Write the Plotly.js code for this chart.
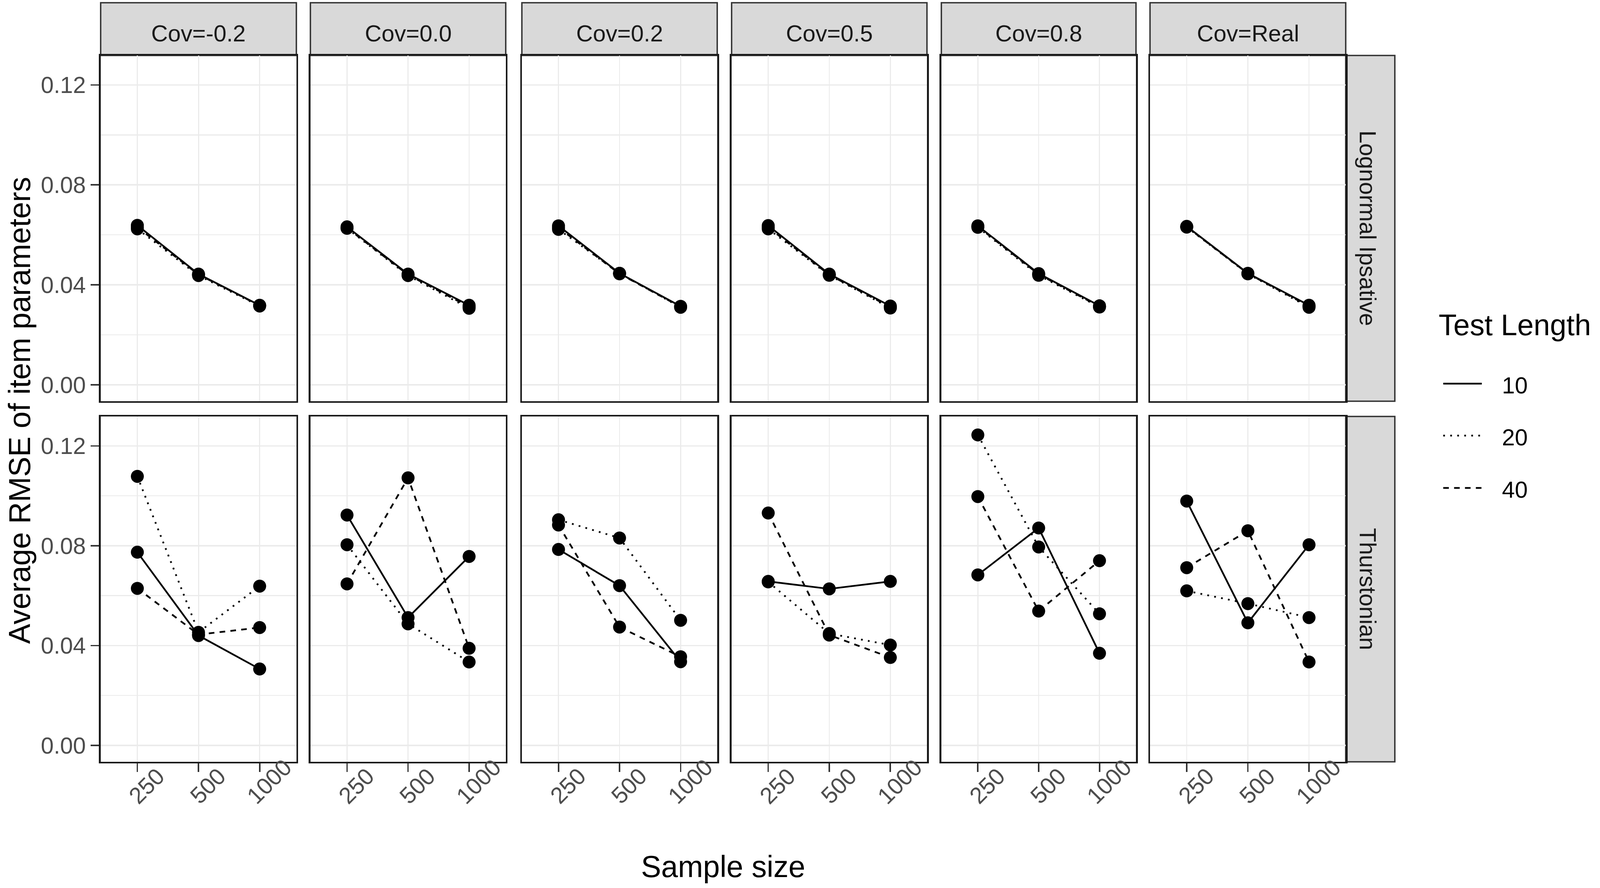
<!DOCTYPE html>
<html>
<head>
<meta charset="utf-8">
<script src="https://cdn.plot.ly/plotly-3.0.1.min.js"></script>
<style>
  html, body { margin: 0; padding: 0; background: #fff; overflow: hidden; }
  #plot { width: 100vw; height: 100vh; }
</style>
</head>
<body>
<div id="plot"></div>
<script>
const sampleSizes = ["250", "500", "1000"];
const covLabels = ["Cov=-0.2", "Cov=0.0", "Cov=0.2", "Cov=0.5", "Cov=0.8", "Cov=Real"];
const modelLabels = ["Lognormal Ipsative", "Thurstonian"];
const testLengths = ["10", "20", "40"];
const yTicks = [0, 0.04, 0.08, 0.12];

// one row per Cov panel, values at sample size 250 / 500 / 1000
const lognormal10 = [
  [0.0638, 0.0443, 0.0318],
  [0.0632, 0.0443, 0.0318],
  [0.0636, 0.0446, 0.0314],
  [0.0637, 0.0443, 0.0315],
  [0.0636, 0.0445, 0.0316],
  [0.0634, 0.0446, 0.0318]
];
const lognormal20 = [
  [0.0624, 0.0437, 0.0315],
  [0.0626, 0.0437, 0.0306],
  [0.0622, 0.0446, 0.0310],
  [0.0624, 0.0438, 0.0307],
  [0.0630, 0.0438, 0.0311],
  [0.0631, 0.0444, 0.0310]
];
const lognormal40 = [
  [0.0631, 0.0441, 0.0317],
  [0.0628, 0.0440, 0.0312],
  [0.0629, 0.0444, 0.0312],
  [0.0630, 0.0440, 0.0311],
  [0.0633, 0.0442, 0.0313],
  [0.0632, 0.0445, 0.0314]
];
const thurstonian10 = [
  [0.0774, 0.0440, 0.0306],
  [0.0923, 0.0512, 0.0757],
  [0.0785, 0.0640, 0.0335],
  [0.0657, 0.0627, 0.0657],
  [0.0683, 0.0871, 0.0369],
  [0.0979, 0.0491, 0.0804]
];
const thurstonian20 = [
  [0.1078, 0.0453, 0.0638],
  [0.0804, 0.0487, 0.0334],
  [0.0904, 0.0831, 0.0501],
  [0.0655, 0.0448, 0.0402],
  [0.1244, 0.0795, 0.0527],
  [0.0619, 0.0568, 0.0512]
];
const thurstonian40 = [
  [0.0629, 0.0444, 0.0472],
  [0.0647, 0.1072, 0.0389],
  [0.0883, 0.0474, 0.0355],
  [0.0931, 0.0442, 0.0352],
  [0.0997, 0.0538, 0.0740],
  [0.0712, 0.0860, 0.0334]
];

const rows = [
  [lognormal10, lognormal20, lognormal40],
  [thurstonian10, thurstonian20, thurstonian40]
];

// geometry measured on a 4562 x 2273 canvas, rescaled to the real window
const REF_W = 4562, REF_H = 2273;
const W = window.innerWidth || REF_W;
const H = window.innerHeight || REF_H;
const S = Math.min(W / REF_W, H / REF_H);

const panelLeft = [287, 885, 1488, 2086, 2684, 3279];
const panelRight = [845, 1442, 2045, 2643, 3239, 3837];
const rowTop = [142, 1066];
const rowBottom = [1027, 1950];
const stripTop = 7;
const stripRight = 3977;

const px = (x) => x / REF_W;
const py = (y) => 1 - y / REF_H;
const sz = (v) => v * S;

const FONT = "Liberation Sans, Arial, Helvetica, sans-serif";
const dashes = [
  "solid",
  sz(5) + "px," + sz(15) + "px",
  sz(16) + "px," + sz(15) + "px"
];

const traces = [];
const layout = {
  width: W,
  height: H,
  margin: { l: 0, r: 0, t: 0, b: 0 },
  paper_bgcolor: "#ffffff",
  plot_bgcolor: "#ffffff",
  showlegend: false,
  font: { family: FONT, color: "#000" },
  shapes: [],
  annotations: []
};

for (let r = 0; r < 2; r++) {
  for (let c = 0; c < 6; c++) {
    const idx = r * 6 + c + 1;
    const sfx = idx === 1 ? "" : String(idx);

    layout["xaxis" + sfx] = {
      type: "category",
      categoryorder: "array",
      categoryarray: sampleSizes,
      range: [-0.6, 2.6],
      domain: [px(panelLeft[c]), px(panelRight[c])],
      anchor: "y" + sfx,
      showgrid: true,
      gridcolor: "#EBEBEB",
      gridwidth: sz(3),
      zeroline: false,
      showline: true,
      linecolor: "#1A1A1A",
      linewidth: sz(5),
      mirror: true,
      ticks: r === 1 ? "outside" : "",
      ticklen: sz(24),
      tickwidth: sz(4),
      tickcolor: "#333333",
      showticklabels: false,
      fixedrange: true
    };

    layout["yaxis" + sfx] = {
      range: [-0.0066, 0.1318],
      domain: [py(rowBottom[r]), py(rowTop[r])],
      anchor: "x" + sfx,
      tickmode: "array",
      tickvals: yTicks,
      ticktext: yTicks.map(v => v.toFixed(2)),
      showgrid: true,
      gridcolor: "#EBEBEB",
      gridwidth: sz(4),
      minor: { dtick: 0.02, tick0: 0, showgrid: true, gridcolor: "#EBEBEB", gridwidth: sz(3), ticks: "" },
      zeroline: false,
      showline: true,
      linecolor: "#1A1A1A",
      linewidth: sz(5),
      mirror: true,
      ticks: c === 0 ? "outside" : "",
      ticklen: sz(24),
      tickwidth: sz(4),
      tickcolor: "#333333",
      showticklabels: c === 0,
      ticklabelstandoff: sz(10),
      tickfont: { family: FONT, size: sz(66), color: "#4D4D4D" },
      fixedrange: true
    };

    for (let s = 0; s < 3; s++) {
      traces.push({
        type: "scatter",
        mode: "lines+markers",
        x: sampleSizes,
        y: rows[r][s][c],
        xaxis: "x" + sfx,
        yaxis: "y" + sfx,
        line: { color: "#000", width: sz(5), dash: dashes[s] },
        marker: { color: "#000", size: sz(37) },
        hoverinfo: "skip",
        showlegend: false
      });
    }

    // rotated sample size labels, placed on the category axis by index
    if (r === 1) {
      sampleSizes.forEach((n, i) => {
        layout.annotations.push({
          xref: "x" + sfx, yref: "paper",
          x: i, y: py(2072),
          xanchor: "center", yanchor: "bottom",
          xshift: sz(27),
          textangle: -45,
          showarrow: false,
          borderpad: 0,
          text: n,
          font: { family: FONT, size: sz(66), color: "#4D4D4D" }
        });
      });
    }
  }
}

// top strips
covLabels.forEach((lab, c) => {
  layout.shapes.push({
    type: "rect", xref: "paper", yref: "paper",
    x0: px(panelLeft[c]), x1: px(panelRight[c]),
    y0: py(rowTop[0]), y1: py(stripTop),
    fillcolor: "#D9D9D9",
    line: { color: "#333333", width: sz(4) },
    layer: "below"
  });
  layout.annotations.push({
    xref: "paper", yref: "paper",
    x: px((panelLeft[c] + panelRight[c]) / 2), y: py(86),
    xanchor: "center", yanchor: "middle",
    showarrow: false, text: lab,
    font: { family: FONT, size: sz(66), color: "#1A1A1A" }
  });
});

// right strips
modelLabels.forEach((lab, r) => {
  layout.shapes.push({
    type: "rect", xref: "paper", yref: "paper",
    x0: px(panelRight[5]), x1: px(stripRight),
    y0: py(rowBottom[r]), y1: py(rowTop[r]),
    fillcolor: "#D9D9D9",
    line: { color: "#333333", width: sz(4) },
    layer: "below"
  });
  layout.annotations.push({
    xref: "paper", yref: "paper",
    x: px(3900), y: py((rowTop[r] + rowBottom[r]) / 2),
    xanchor: "center", yanchor: "middle",
    textangle: 90,
    showarrow: false, text: lab,
    font: { family: FONT, size: sz(66), color: "#1A1A1A" }
  });
});

// axis titles
layout.annotations.push({
  xref: "paper", yref: "paper",
  x: px((panelLeft[0] + panelRight[5]) / 2), y: py(2218),
  xanchor: "center", yanchor: "middle",
  showarrow: false, text: "Sample size",
  font: { family: FONT, size: sz(86), color: "#000" }
});
layout.annotations.push({
  xref: "paper", yref: "paper",
  x: px(56), y: py(1050),
  xanchor: "center", yanchor: "middle",
  textangle: -90,
  showarrow: false, text: "Average RMSE of item parameters",
  font: { family: FONT, size: sz(86), color: "#000" }
});

// legend
layout.annotations.push({
  xref: "paper", yref: "paper",
  x: px(4100), y: py(832),
  xanchor: "left", yanchor: "middle",
  showarrow: false, text: "Test Length",
  font: { family: FONT, size: sz(84), color: "#000" }
});
const legendY = [982, 1115, 1249];
testLengths.forEach((t, s) => {
  layout.shapes.push({
    type: "line", xref: "paper", yref: "paper",
    x0: px(4115), x1: px(4225),
    y0: py(legendY[s]), y1: py(legendY[s]),
    line: { color: "#000", width: sz(5), dash: dashes[s] }
  });
  layout.annotations.push({
    xref: "paper", yref: "paper",
    x: px(4280), y: py(legendY[s] + 4),
    xanchor: "left", yanchor: "middle",
    showarrow: false, text: t,
    font: { family: FONT, size: sz(66), color: "#000" }
  });
});

Plotly.newPlot("plot", traces, layout, { displayModeBar: false, staticPlot: true });
</script>
</body>
</html>
